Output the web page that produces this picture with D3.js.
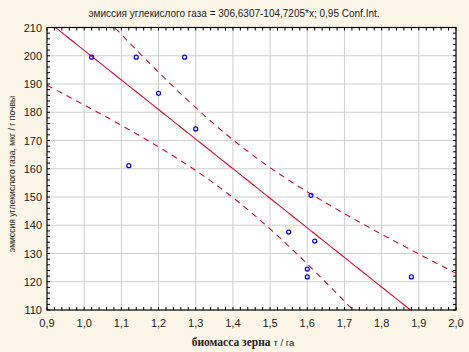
<!DOCTYPE html>
<html>
<head>
<meta charset="utf-8">
<script src="https://cdn.jsdelivr.net/npm/d3@7"></script>
<style>
  body { margin: 0; background: #fcf6e8; }
  svg { display: block; }
</style>
</head>
<body>
<div id="chart"></div>
<script>
// observed points: grain biomass (t/ha) vs CO2 emission (mg/g soil)
const biomass = [1.02, 1.14, 1.27, 1.20, 1.30, 1.12, 1.61, 1.55, 1.62, 1.60, 1.60, 1.88];
const emission = [199.5, 199.5, 199.5, 186.7, 174.1, 161.1, 150.6, 137.6, 134.4, 124.5, 121.7, 121.7];

// regression from the title
const intercept = 306.6307;
const slope = -104.7205;
const tCrit = 2.228; // t(0.975, df = 10)

const xTicks = [0.9, 1.0, 1.1, 1.2, 1.3, 1.4, 1.5, 1.6, 1.7, 1.8, 1.9, 2.0];
const yTicks = [110, 120, 130, 140, 150, 160, 170, 180, 190, 200, 210];

const titleText = "эмиссия углекислого газа = 306,6307-104,7205*x; 0,95 Conf.Int.";

const width = 469, height = 352;
const margin = {top: 27.5, right: 13, bottom: 42, left: 47};

const svg = d3.select("#chart")
    .append("svg")
    .attr("width", width)
    .attr("height", height);

const x = d3.scaleLinear().domain([0.9, 2.0]).range([margin.left, width - margin.right]);
const y = d3.scaleLinear().domain([110, 210]).range([height - margin.bottom, margin.top]);

svg.append("rect")
    .attr("x", x(0.9)).attr("y", y(210))
    .attr("width", x(2.0) - x(0.9)).attr("height", y(110) - y(210))
    .attr("fill", "#ffffff");

// grid
svg.append("g")
    .selectAll("line.vx")
    .data(xTicks.slice(1, -1))
    .join("line")
    .attr("x1", d => x(d)).attr("x2", d => x(d))
    .attr("y1", y(110)).attr("y2", y(210))
    .attr("stroke", "#cfcfcf").attr("stroke-width", 1);

svg.append("g")
    .selectAll("line.hy")
    .data(yTicks.slice(1, -1))
    .join("line")
    .attr("x1", x(0.9)).attr("x2", x(2.0))
    .attr("y1", d => y(d)).attr("y2", d => y(d))
    .attr("stroke", "#cfcfcf").attr("stroke-width", 1);

// confidence band
const n = biomass.length;
const xMean = d3.mean(biomass);
const sxx = d3.sum(biomass, v => (v - xMean) ** 2);
const fit = v => intercept + slope * v;
const sse = d3.sum(biomass, (v, i) => (emission[i] - fit(v)) ** 2);
const s = Math.sqrt(sse / (n - 2));
const half = v => tCrit * s * Math.sqrt(1 / n + (v - xMean) ** 2 / sxx);

const grid = d3.range(0.9, 2.0001, 0.005);

svg.append("clipPath").attr("id", "plot-clip")
    .append("rect")
    .attr("x", x(0.9)).attr("y", y(210))
    .attr("width", x(2.0) - x(0.9)).attr("height", y(110) - y(210));

const plot = svg.append("g").attr("clip-path", "url(#plot-clip)");

const line = d3.line().x(d => x(d[0])).y(d => y(d[1]));

plot.append("path")
    .datum(grid.map(v => [v, fit(v)]))
    .attr("d", line)
    .attr("fill", "none")
    .attr("stroke", "#d0102a")
    .attr("stroke-width", 1.1);

for (const sign of [1, -1]) {
    plot.append("path")
        .datum(grid.map(v => [v, fit(v) + sign * half(v)]))
        .attr("d", line)
        .attr("fill", "none")
        .attr("stroke", "#c8102e")
        .attr("stroke-width", 1.1)
        .attr("stroke-dasharray", "6,5");
}

// points
svg.append("g")
    .selectAll("circle")
    .data(biomass.map((v, i) => [v, emission[i]]))
    .join("circle")
    .attr("cx", d => x(d[0]))
    .attr("cy", d => y(d[1]))
    .attr("r", 2)
    .attr("fill", "none")
    .attr("stroke", "#0000ee")
    .attr("stroke-width", 1.2);

// frame
svg.append("rect")
    .attr("x", x(0.9)).attr("y", y(210))
    .attr("width", x(2.0) - x(0.9)).attr("height", y(110) - y(210))
    .attr("fill", "none")
    .attr("stroke", "#000")
    .attr("stroke-width", 1.2);

// minor ticks, inward on all sides
const xMinor = d3.range(0.9, 2.0001, 0.02);
const yMinor = d3.range(110, 210.001, 2);
const ticks = svg.append("g").attr("stroke", "#000").attr("stroke-width", 1);
ticks.selectAll("line.xb").data(xMinor).join("line")
    .attr("x1", d => x(d)).attr("x2", d => x(d))
    .attr("y1", y(110)).attr("y2", y(110) - 3);
ticks.selectAll("line.xt").data(xMinor).join("line")
    .attr("x1", d => x(d)).attr("x2", d => x(d))
    .attr("y1", y(210)).attr("y2", y(210) + 3);
ticks.selectAll("line.yl").data(yMinor).join("line")
    .attr("x1", x(0.9)).attr("x2", x(0.9) + 3)
    .attr("y1", d => y(d)).attr("y2", d => y(d));
ticks.selectAll("line.yr").data(yMinor).join("line")
    .attr("x1", x(2.0)).attr("x2", x(2.0) - 3)
    .attr("y1", d => y(d)).attr("y2", d => y(d));

// tick labels
const fmt = d => d3.format(".1f")(d).replace(".", ",");
svg.append("g")
    .selectAll("text")
    .data(xTicks)
    .join("text")
    .attr("x", d => x(d))
    .attr("y", y(110) + 17)
    .attr("text-anchor", "middle")
    .attr("font-family", "Liberation Sans, Arial, sans-serif")
    .attr("font-size", 11)
    .attr("fill", "#222")
    .text(fmt);

svg.append("g")
    .selectAll("text")
    .data(yTicks)
    .join("text")
    .attr("x", x(0.9) - 5)
    .attr("y", d => y(d) + 4)
    .attr("text-anchor", "end")
    .attr("font-family", "Liberation Sans, Arial, sans-serif")
    .attr("font-size", 11)
    .attr("fill", "#222")
    .text(d => d);

// title
svg.append("text")
    .attr("x", 234)
    .attr("y", 17)
    .attr("text-anchor", "middle")
    .attr("font-family", "Liberation Sans, Arial, sans-serif")
    .attr("font-size", 10)
    .attr("fill", "#222")
    .text(titleText);

// axis titles
const xLabel = svg.append("text")
    .attr("x", 243)
    .attr("y", 346)
    .attr("text-anchor", "middle")
    .attr("fill", "#222");
xLabel.append("tspan")
    .attr("font-family", "Liberation Serif, Times New Roman, serif")
    .attr("font-weight", "bold")
    .attr("font-size", 11.5)
    .text("биомасса зерна ");
xLabel.append("tspan")
    .attr("font-family", "Liberation Sans, Arial, sans-serif")
    .attr("font-size", 9.5)
    .text(" т / га");

svg.append("text")
    .attr("transform", "translate(15, 174) rotate(-90)")
    .attr("text-anchor", "middle")
    .attr("font-family", "Liberation Sans, Arial, sans-serif")
    .attr("font-size", 8.6)
    .attr("fill", "#222")
    .text("эмиссия углекислого газа, мкг / г почвы");
</script>
</body>
</html>
